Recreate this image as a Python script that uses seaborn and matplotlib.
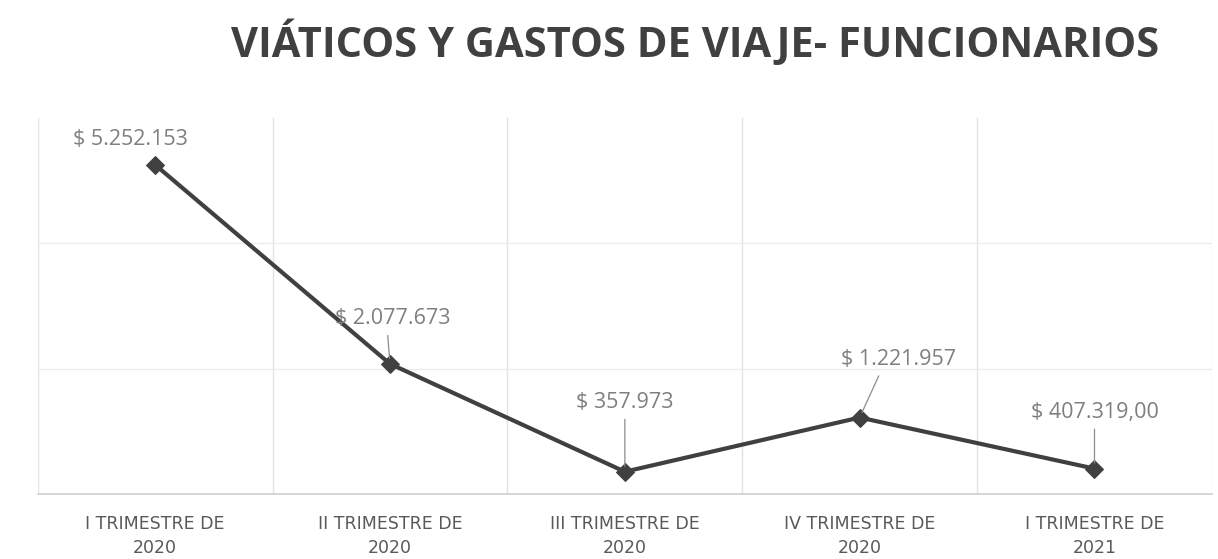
import matplotlib
matplotlib.use("Agg")
import matplotlib.pyplot as plt
import seaborn as sns
import pandas as pd

categories = ["I TRIMESTRE DE\n2020", "II TRIMESTRE DE\n2020", "III TRIMESTRE DE\n2020",
              "IV TRIMESTRE DE\n2020", "I TRIMESTRE DE\n2021"]
values = [5252153, 2077673, 357973, 1221957, 407319]
labels = ["$ 5.252.153", "$ 2.077.673", "$ 357.973", "$ 1.221.957", "$ 407.319,00"]
title = "VIÁTICOS Y GASTOS DE VIAJE- FUNCIONARIOS"

sns.set_theme(style="white")
plt.rcParams["font.family"] = ["Open Sans", "DejaVu Sans"]

fig = plt.figure(figsize=(12.18, 5.59), dpi=100)
ax = fig.add_axes([0.031, 0.116, 0.964, 0.673])

df = pd.DataFrame({"cat": categories, "val": values})
sns.lineplot(data=df, x="cat", y="val", sort=False, ax=ax, color="#404040",
             linewidth=3.0, marker="D", markersize=9, markeredgecolor="#404040",
             markerfacecolor="#404040")

ax.set_xlim(-0.5, len(categories) - 0.5)
ax.set_ylim(0, 6000000)
ax.set_yticks([])
ax.set_xlabel("")
ax.set_ylabel("")

for b in range(len(categories) + 1):
    ax.axvline(b - 0.5, color="#e2e2e2", lw=1, zorder=0)
for h in [2000000, 4000000]:
    ax.axhline(h, color="#ececec", lw=1, zorder=0)

for s in ["top", "right"]:
    ax.spines[s].set_visible(False)
ax.spines["left"].set_visible(False)
ax.spines["bottom"].set_color("#d0d0d0")
ax.spines["bottom"].set_linewidth(1.2)

ax.tick_params(axis="x", length=0, pad=15, labelsize=12.5, labelcolor="#595959")
for t in ax.get_xticklabels():
    t.set_linespacing(1.42)
    t.set_family(["DejaVu Sans"])

offsets = [(-25, 25), (3, 45), (0, 69), (39, 58), (0, 56)]
leaders = [False, True, True, True, True]
relpos = [(0.5, 0), (0.45, 0), (0.5, 0), (0.35, 0), (0.5, 0)]
for i, (v, lab) in enumerate(zip(values, labels)):
    kw = {}
    if leaders[i]:
        kw["arrowprops"] = dict(arrowstyle="-", color="#8c8c8c", lw=0.9,
                                shrinkA=2, shrinkB=4, relpos=relpos[i])
    ax.annotate(lab, xy=(i, v), xytext=offsets[i], textcoords="offset pixels",
                ha="center", va="center", fontsize=15.5, color="#7f7f7f", **kw)

fig.text(0.571, 0.922, title, ha="center", va="center", fontsize=30,
         fontweight="bold", color="#404040")

fig.savefig("out.png", dpi=100)
